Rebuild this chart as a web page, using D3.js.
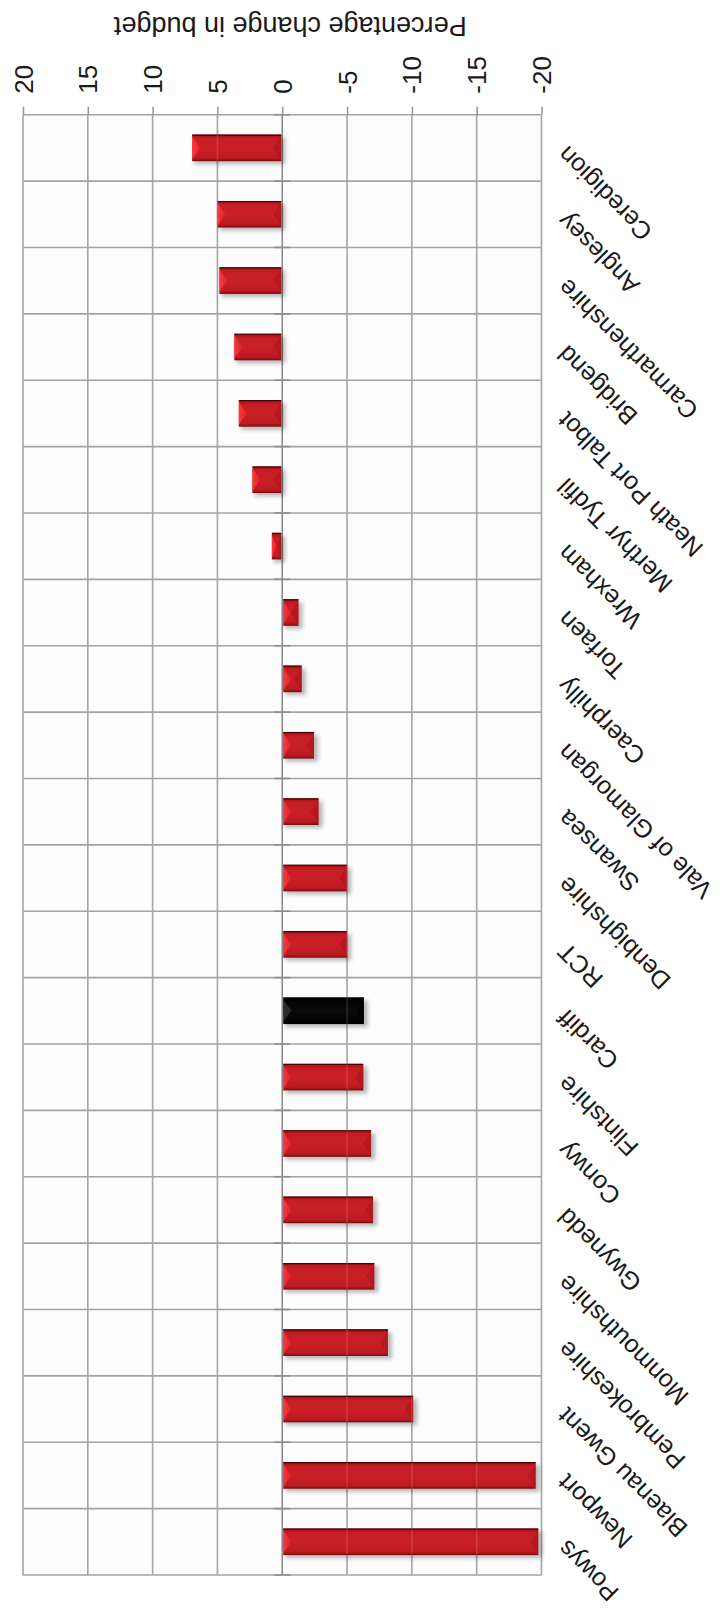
<!DOCTYPE html>
<html>
<head>
<meta charset="utf-8">
<script src="https://cdn.jsdelivr.net/npm/d3@7"></script>
<style>
  html, body { margin: 0; padding: 0; background: #ffffff; }
  svg { display: block; }
  text { font-family: "Liberation Sans", Arial, Helvetica, sans-serif; fill: #1a1a1a; }
</style>
</head>
<body>
<script>
// Council areas, in drawing order (top to bottom)
const categories = [
  "Ceredigion", "Anglesey", "Carmarthenshire", "Bridgend", "Neath Port Talbot",
  "Merthyr Tydfil", "Wrexham", "Torfaen", "Caerphilly", "Vale of Glamorgan",
  "Swansea", "Denbighshire", "RCT", "Cardiff", "Flintshire", "Conwy",
  "Gwynedd", "Monmouthshire", "Pembrokeshire", "Blaenau Gwent", "Newport", "Powys"
];
// Percentage change in budget per council
const values = [
  6.95, 5.0, 4.85, 3.7, 3.35,
  2.3, 0.8, -1.25, -1.5, -2.45,
  -2.8, -5.0, -5.0, -6.3, -6.25, -6.85,
  -7.0, -7.1, -8.15, -10.1, -19.55, -19.75
];
// Councils drawn in the contrasting colour
const highlighted = ["Cardiff"];
// Value axis
const tickValues = [20, 15, 10, 5, 0, -5, -10, -15, -20];
const axisTitle = "Percentage change in budget";

const W = 722, H = 1616;
const plot = { left: 23, right: 541.5, top: 114.7, bottom: 1575 };

const svg = d3.select("body").append("svg")
  .attr("width", W).attr("height", H);

const x = d3.scaleLinear().domain([20, -20]).range([plot.left, plot.right]);
const y = d3.scaleBand().domain(categories)
  .range([plot.top, plot.bottom])
  .paddingInner(0.6).paddingOuter(0.3);

const defs = svg.append("defs");
const redGrad = defs.append("linearGradient").attr("id", "barRed")
  .attr("x1", 0).attr("y1", 0).attr("x2", 0).attr("y2", 1);
[[0, "#7e0b10"], [0.07, "#b3151c"], [0.16, "#c71e25"], [0.55, "#c91f27"],
 [0.88, "#bd1a21"], [0.95, "#9a1117"], [1, "#6e090d"]]
  .forEach(([o, c]) => redGrad.append("stop").attr("offset", o).attr("stop-color", c));
const blackGrad = defs.append("linearGradient").attr("id", "barBlack")
  .attr("x1", 0).attr("y1", 0).attr("x2", 0).attr("y2", 1);
[[0, "#000"], [0.5, "#0b0b0b"], [1, "#000"]]
  .forEach(([o, c]) => blackGrad.append("stop").attr("offset", o).attr("stop-color", c));
const lightGrad = defs.append("linearGradient").attr("id", "bevelLight")
  .attr("x1", 0).attr("y1", 0).attr("x2", 1).attr("y2", 0);
[[0, "#ff3a3f"], [1, "#dd2128"]]
  .forEach(([o, c]) => lightGrad.append("stop").attr("offset", o).attr("stop-color", c));
defs.append("filter").attr("id", "soft")
  .attr("x", "-20%").attr("y", "-40%").attr("width", "140%").attr("height", "180%")
  .append("feGaussianBlur").attr("stdDeviation", 2.2);

// Plot background
svg.append("rect")
  .attr("x", plot.left).attr("y", plot.top)
  .attr("width", plot.right - plot.left).attr("height", plot.bottom - plot.top)
  .attr("fill", "#fdfdfd");

// Grid
const rowEdges = d3.range(categories.length + 1).map(i => plot.top + i * y.step());
svg.append("g").selectAll("line").data(rowEdges).join("line")
  .attr("x1", plot.left).attr("x2", plot.right)
  .attr("y1", d => d).attr("y2", d => d)
  .attr("stroke", "#a3a3a3").attr("stroke-width", 1.6);
svg.append("g").selectAll("line").data(tickValues).join("line")
  .attr("x1", d => x(d)).attr("x2", d => x(d))
  .attr("y1", plot.top).attr("y2", plot.bottom)
  .attr("stroke", d => d === 0 ? "#8a8a8a" : "#9a9a9a").attr("stroke-width", 1.6);

// Small ticks on the category axis at zero
svg.append("g").selectAll("line").data(rowEdges).join("line")
  .attr("x1", x(0) - 8).attr("x2", x(0) + 8)
  .attr("y1", d => d).attr("y2", d => d)
  .attr("stroke", "#8f8f8f").attr("stroke-width", 1.6);

// Bars
const bars = svg.append("g");
categories.forEach((c, i) => {
  const v = values[i];
  const x0 = Math.min(x(v), x(0)) + (v < 0 ? 1 : 0);
  const x1 = Math.max(x(v), x(0)) - (v > 0 ? 1 : 0);
  const y0 = y(c), h = y.bandwidth(), y1 = y0 + h, ym = y0 + h / 2;
  const w = x1 - x0;
  const dark = highlighted.includes(c);
  const g = bars.append("g");
  g.append("rect")
    .attr("x", x0 + 2).attr("y", y0 + 3).attr("width", w + 2).attr("height", h)
    .attr("fill", "#000").attr("opacity", 0.28).attr("filter", "url(#soft)");
  g.append("rect")
    .attr("x", x0).attr("y", y0).attr("width", w).attr("height", h)
    .attr("fill", dark ? "url(#barBlack)" : "url(#barRed)");
  const b = Math.min(8, w / 2);
  g.append("polygon")
    .attr("points", [[x0, y0 + 2], [x0 + b, ym], [x0, y1 - 2]].join(" "))
    .attr("fill", dark ? "#3a3a3a" : "url(#bevelLight)")
    .attr("opacity", dark ? 0.7 : 0.95);
  g.append("polygon")
    .attr("points", [[x1, y0 + 2], [x1 - b, ym], [x1, y1 - 2]].join(" "))
    .attr("fill", dark ? "#000" : "#a9141b").attr("opacity", 0.6);
  g.append("line")
    .attr("x1", x0).attr("x2", x1).attr("y1", y0 + 0.5).attr("y2", y0 + 0.5)
    .attr("stroke", dark ? "#000" : "#4a0406").attr("stroke-width", 1.2);
});

// Faint grid lines seen through the bars
svg.append("g").selectAll("line").data(tickValues.filter(d => d !== 0)).join("line")
  .attr("x1", d => x(d)).attr("x2", d => x(d))
  .attr("y1", plot.top).attr("y2", plot.bottom)
  .attr("stroke", "#ffffff").attr("stroke-opacity", 0.13).attr("stroke-width", 1.6);

// Value axis along the top
const axis = svg.append("g")
  .attr("transform", `translate(0,${plot.top})`)
  .call(d3.axisTop(x).tickValues(tickValues).tickSize(8).tickSizeOuter(0)
    .tickFormat(d => String(d)));
axis.select(".domain").remove();
axis.selectAll(".tick line").attr("stroke", "#9a9a9a").attr("stroke-width", 1.6);
axis.selectAll(".tick text")
  .attr("x", 0).attr("y", 0).attr("dy", "0.35em")
  .attr("transform", "translate(0,-21) rotate(-90)")
  .attr("text-anchor", "start")
  .style("font-size", "26px")
  .style("font-family", "'Liberation Sans', Arial, Helvetica, sans-serif")
  .attr("fill", "#1a1a1a");

// Axis title
svg.append("text")
  .attr("transform", `translate(${(plot.left + plot.right) / 2 + 8},26) rotate(180)`)
  .attr("text-anchor", "middle").attr("dy", "0.35em")
  .style("font-size", "27px")
  .text(axisTitle);

// Category labels
svg.append("g").selectAll("text").data(categories).join("text")
  .attr("transform", d => {
    const ax = 562, ay = y(d) + y.bandwidth() / 2 + 3;
    return `translate(${ax},${ay}) rotate(-135)`;
  })
  .attr("text-anchor", "end").attr("dy", "0.35em")
  .style("font-size", "25px")
  .text(d => d);
</script>
</body>
</html>
